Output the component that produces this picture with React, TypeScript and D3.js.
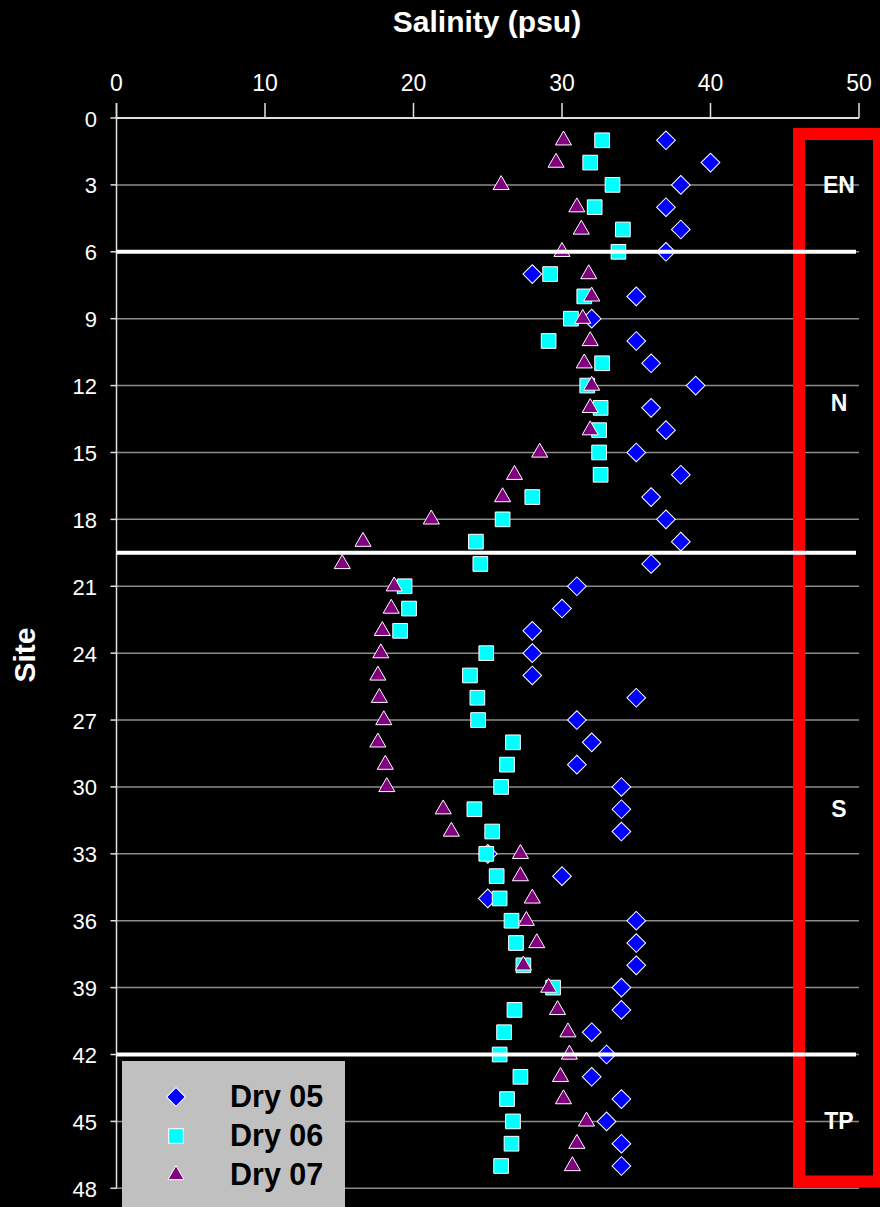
import React from "react";
import * as d3 from "d3";

const sites = [1,2,3,4,5,6,7,8,9,10,11,12,13,14,15,16,17,18,19,20,21,22,23,24,25,26,27,28,29,30,31,32,33,34,35,36,37,38,39,40,41,42,43,44,45,46,47];
const dry05 = [37,40,38,37,38,37,28,35,32,35,36,39,36,37,35,38,36,37,38,36,31,30,28,28,28,35,31,32,31,34,34,34,25,30,25,35,35,35,34,34,32,33,32,34,33,34,34];
const dry06 = [32.7,31.9,33.4,32.2,34.1,33.8,29.2,31.5,30.6,29.1,32.7,31.7,32.6,32.5,32.5,32.6,28.0,26.0,24.2,24.5,19.4,19.7,19.1,24.9,23.8,24.3,24.35,26.7,26.3,25.9,24.1,25.3,24.9,25.6,25.8,26.6,26.9,27.4,29.4,26.8,26.1,25.8,27.2,26.3,26.7,26.6,25.9];
const dry07 = [30.1,29.6,25.9,31.0,31.3,30.0,31.8,32.0,31.4,31.9,31.5,32.0,31.9,31.9,28.5,26.8,26.0,21.2,16.6,15.2,18.7,18.5,17.9,17.8,17.6,17.7,18.0,17.6,18.1,18.2,22.0,22.55,27.2,27.2,28.0,27.6,28.3,27.4,29.1,29.7,30.4,30.5,29.9,30.1,31.65,31.0,30.7];
const seriesNames = ["Dry 05", "Dry 06", "Dry 07"];
const xTicks = [0, 10, 20, 30, 40, 50];
const yTicks = [0, 3, 6, 9, 12, 15, 18, 21, 24, 27, 30, 33, 36, 39, 42, 45, 48];
const boundaries = [6, 19.5, 42];
const regions = [
  { name: "EN", site: 3 },
  { name: "N", site: 12.8 },
  { name: "S", site: 31 },
  { name: "TP", site: 45 },
];

const W = 880;
const H = 1207;
const FONT = "'Liberation Sans', Arial, Helvetica, sans-serif";

const x = d3.scaleLinear().domain([0, 50]).range([116.5, 859]);
const y = d3.scaleLinear().domain([0, 48]).range([118, 1188.3]);

const diamondPath = d3.symbol().type(d3.symbolSquare).size(175)()!;
const squarePath = d3.symbol().type(d3.symbolSquare).size(216)()!;
const trianglePath = d3.symbol().type(d3.symbolTriangle).size(112)()!;

function Marker({ kind, cx, cy }: { kind: number; cx: number; cy: number }) {
  if (kind === 0)
    return <path d={diamondPath} transform={`translate(${cx},${cy}) rotate(45)`} fill="#0000ff" stroke="#ffffff" strokeWidth={1} />;
  if (kind === 1)
    return <path d={squarePath} transform={`translate(${cx},${cy})`} fill="#00ffff" stroke="#ffffff" strokeWidth={1} />;
  return <path d={trianglePath} transform={`translate(${cx},${cy})`} fill="#800080" stroke="#ffffff" strokeWidth={1} />;
}

export default function App() {
  const series = [dry05, dry06, dry07];
  const x0 = x(0);
  const x1 = x(50);
  return (
    <svg width={W} height={H} style={{ position: "absolute", left: 0, top: 0, background: "#000" }} fontFamily={FONT}>
      <rect x={0} y={0} width={W} height={H} fill="#000000" />
      {yTicks.slice(1).map((t) => (
        <line key={"g" + t} x1={x0} x2={x1} y1={y(t)} y2={y(t)} stroke="#8c8c8c" strokeWidth={1.5} />
      ))}
      <line x1={x0} x2={x1} y1={y(0)} y2={y(0)} stroke="#e0e0e0" strokeWidth={2} />
      {xTicks.map((t) => (
        <g key={"xt" + t}>
          <line x1={x(t)} x2={x(t)} y1={y(0)} y2={y(0) - 15} stroke="#e0e0e0" strokeWidth={1.5} />
          <text x={x(t)} y={91} textAnchor="middle" fill="#ffffff" fontSize={23}>{t}</text>
        </g>
      ))}
      <text x={487} y={32} textAnchor="middle" fill="#ffffff" fontSize={30} fontWeight="bold">Salinity (psu)</text>
      <line x1={x0} x2={x0} y1={y(0) - 15} y2={y(48)} stroke="#e0e0e0" strokeWidth={1.5} />
      {yTicks.map((t) => (
        <g key={"yt" + t}>
          <line x1={x0 - 6} x2={x0} y1={y(t)} y2={y(t)} stroke="#e0e0e0" strokeWidth={1.5} />
          <text x={97} y={y(t) + 8.5} textAnchor="end" fill="#ffffff" fontSize={22}>{t}</text>
        </g>
      ))}
      <text transform={`translate(35,655) rotate(-90)`} textAnchor="middle" fill="#ffffff" fontSize={30} fontWeight="bold">Site</text>
      <rect x={799} y={134} width={80} height={1047.5} fill="none" stroke="#ff0000" strokeWidth={12} />
      {series.map((vals, k) => (
        <g key={"s" + k}>
          {vals.map((v, i) => (
            <Marker key={i} kind={k} cx={x(v)} cy={y(sites[i])} />
          ))}
        </g>
      ))}
      {boundaries.map((b) => (
        <line key={"b" + b} x1={x0} x2={856} y1={y(b)} y2={y(b)} stroke="#ffffff" strokeWidth={4} />
      ))}
      {regions.map((r) => (
        <text key={r.name} x={839} y={y(r.site) + 8} textAnchor="middle" fill="#ffffff" fontSize={23} fontWeight="bold">{r.name}</text>
      ))}
      <rect x={122} y={1061} width={223} height={150} fill="#c0c0c0" />
      {seriesNames.map((name, k) => (
        <g key={name}>
          <Marker kind={k} cx={176} cy={1097 + k * 39} />
          <text x={230} y={1107 + k * 39} fill="#000000" fontSize={30.5} fontWeight="bold">{name}</text>
        </g>
      ))}
    </svg>
  );
}
